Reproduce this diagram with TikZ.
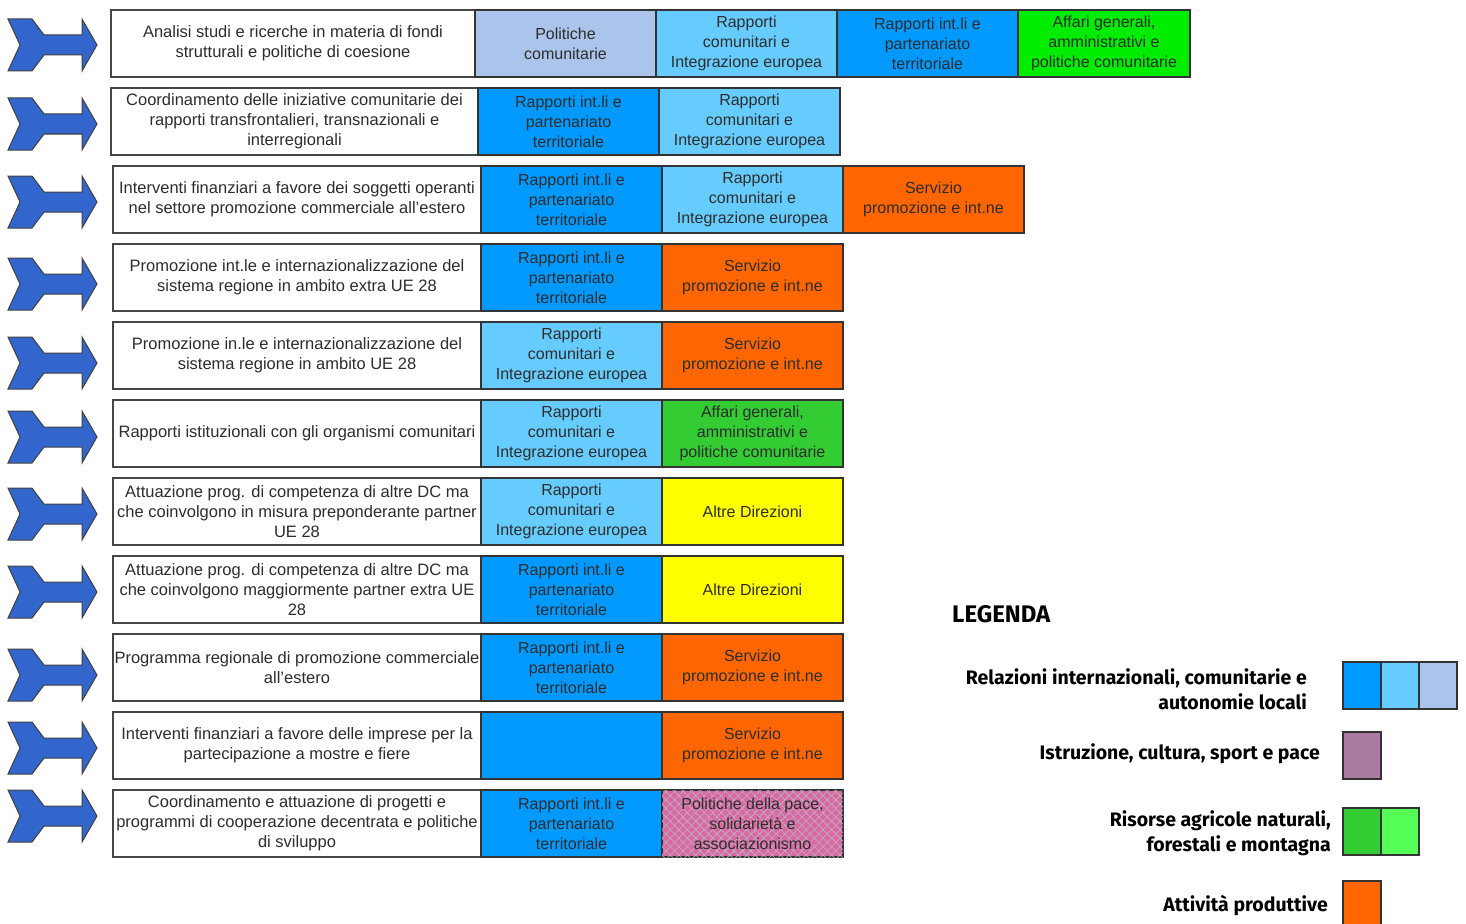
\documentclass[tikz,border=0pt]{standalone}
\usepackage{fontspec}
\setmainfont{Liberation Sans}
\newfontfamily\legendafont{Fira Sans}
\usetikzlibrary{positioning,patterns.meta}
\definecolor{freccia}{RGB}{51,102,204}
\definecolor{bordo}{RGB}{70,70,70}
\definecolor{testo}{RGB}{45,45,45}
\definecolor{polcom}{RGB}{170,196,236}
\definecolor{rapcom}{RGB}{102,204,255}
\definecolor{rapint}{RGB}{0,153,255}
\definecolor{affgen}{RGB}{0,236,0}
\definecolor{affgenb}{RGB}{51,204,51}
\definecolor{risorse}{RGB}{85,255,85}
\definecolor{servprom}{RGB}{255,102,0}
\definecolor{altredir}{RGB}{255,255,0}
\definecolor{pace}{RGB}{218,104,166}
\definecolor{istruz}{RGB}{170,122,160}
\begin{document}
\begin{tikzpicture}[x=1pt,y=-1pt,
  attivita/.style={draw=bordo, line width=1.4pt, fill=white, text=testo, font=\fontsize{16.5}{20}\selectfont, align=center, minimum height=67pt, anchor=north west, inner sep=0pt, outer sep=0pt},
  cella/.style={draw=black!80, line width=1.4pt, text=testo, font=\fontsize{16}{20}\selectfont, align=center, minimum height=67pt, minimum width=181pt, inner sep=0pt, outer sep=0pt},
  frecciablu/.style={fill=freccia, draw=black!75, line width=1pt},
  voce/.style={font=\legendafont\bfseries\fontsize{19.5}{25}\selectfont, align=right, anchor=east, inner sep=0pt},
  quadro/.style={draw=black!80, line width=1.2pt, minimum width=38pt, minimum height=47pt, inner sep=0pt, outer sep=0pt},
  retino/.style={postaction={pattern={Lines[angle=45,distance=6pt,line width=0.6pt]}, pattern color=gray!55},
                 postaction={pattern={Lines[angle=-45,distance=6pt,line width=0.6pt]}, pattern color=gray!55}}]
\useasboundingbox (0,0) rectangle (1466,923);

%Frecce
\foreach \cy in {45,124,202,284,363,437,514,592,675,748,816}
  \draw[frecciablu, shift={(0,\cy)}] (8,-26) -- (32,-26) -- (44,-10) -- (82,-10) -- (82,-26) -- (97,0) -- (82,26) -- (82,10) -- (44,10) -- (32,26) -- (8,26) -- (20,0) -- cycle;

%Riga 1
\node[attivita, minimum width=364pt] (att1) at (111,10) {Analisi studi e ricerche in materia di fondi\\strutturali e politiche di coesione};
\node[cella, fill=polcom, right=0pt of att1] (s1a) {Politiche\\comunitarie};
\node[cella, fill=rapcom, right=0pt of s1a] (s1b) {Rapporti\\comunitari e\\Integrazione europea};
\node[cella, fill=rapint, right=0pt of s1b] (s1c) {Rapporti int.li e\\partenariato\\territoriale};
\node[cella, fill=affgen, minimum width=172pt, right=0pt of s1c] (s1d) {Affari generali,\\amministrativi e\\politiche comunitarie};

%Riga 2
\node[attivita, minimum width=367pt] (att2) at (111,88) {Coordinamento delle iniziative comunitarie dei\\rapporti transfrontalieri, transnazionali e\\interregionali};
\node[cella, fill=rapint, right=0pt of att2] (s2a) {Rapporti int.li e\\partenariato\\territoriale};
\node[cella, fill=rapcom, right=0pt of s2a] (s2b) {Rapporti\\comunitari e\\Integrazione europea};

%Riga 3
\node[attivita, minimum width=368pt] (att3) at (113,166) {Interventi finanziari a favore dei soggetti operanti\\nel settore promozione commerciale all'estero};
\node[cella, fill=rapint, right=0pt of att3] (s3a) {Rapporti int.li e\\partenariato\\territoriale};
\node[cella, fill=rapcom, right=0pt of s3a] (s3b) {Rapporti\\comunitari e\\Integrazione europea};
\node[cella, fill=servprom, right=0pt of s3b] (s3c) {Servizio\\promozione e int.ne};

%Riga 4
\node[attivita, minimum width=368pt] (att4) at (113,244) {Promozione int.le e internazionalizzazione del\\sistema regione in ambito extra UE 28};
\node[cella, fill=rapint, right=0pt of att4] (s4a) {Rapporti int.li e\\partenariato\\territoriale};
\node[cella, fill=servprom, right=0pt of s4a] (s4b) {Servizio\\promozione e int.ne};

%Riga 5
\node[attivita, minimum width=368pt] (att5) at (113,322) {Promozione in.le e internazionalizzazione del\\sistema regione in ambito UE 28};
\node[cella, fill=rapcom, right=0pt of att5] (s5a) {Rapporti\\comunitari e\\Integrazione europea};
\node[cella, fill=servprom, right=0pt of s5a] (s5b) {Servizio\\promozione e int.ne};

%Riga 6
\node[attivita, minimum width=368pt] (att6) at (113,400) {Rapporti istituzionali con gli organismi comunitari};
\node[cella, fill=rapcom, right=0pt of att6] (s6a) {Rapporti\\comunitari e\\Integrazione europea};
\node[cella, fill=affgenb, right=0pt of s6a] (s6b) {Affari generali,\\amministrativi e\\politiche comunitarie};

%Riga 7
\node[attivita, minimum width=368pt] (att7) at (113,478) {Attuazione prog. di competenza di altre DC ma\\che coinvolgono in misura preponderante partner\\UE 28};
\node[cella, fill=rapcom, right=0pt of att7] (s7a) {Rapporti\\comunitari e\\Integrazione europea};
\node[cella, fill=altredir, right=0pt of s7a] (s7b) {Altre Direzioni};

%Riga 8
\node[attivita, minimum width=368pt] (att8) at (113,556) {Attuazione prog. di competenza di altre DC ma\\che coinvolgono maggiormente partner extra UE\\28};
\node[cella, fill=rapint, right=0pt of att8] (s8a) {Rapporti int.li e\\partenariato\\territoriale};
\node[cella, fill=altredir, right=0pt of s8a] (s8b) {Altre Direzioni};

%Riga 9
\node[attivita, minimum width=368pt] (att9) at (113,634) {Programma regionale di promozione commerciale\\all'estero};
\node[cella, fill=rapint, right=0pt of att9] (s9a) {Rapporti int.li e\\partenariato\\territoriale};
\node[cella, fill=servprom, right=0pt of s9a] (s9b) {Servizio\\promozione e int.ne};

%Riga 10
\node[attivita, minimum width=368pt] (att10) at (113,712) {Interventi finanziari a favore delle imprese per la\\partecipazione a mostre e fiere};
\node[cella, fill=rapint, right=0pt of att10] (s10a) {};
\node[cella, fill=servprom, right=0pt of s10a] (s10b) {Servizio\\promozione e int.ne};

%Riga 11
\node[attivita, minimum width=368pt] (att11) at (113,790) {Coordinamento e attuazione di progetti e\\programmi di cooperazione decentrata e politiche\\di sviluppo};
\node[cella, fill=rapint, right=0pt of att11] (s11a) {Rapporti int.li e\\partenariato\\territoriale};
\node[cella, fill=pace, retino, right=0pt of s11a] (s11b) {Politiche della pace,\\solidarietà e\\associazionismo};

%Legenda
\node[font=\legendafont\bfseries\fontsize{24}{28}\selectfont, anchor=west, inner sep=0pt] (legenda) at (952,614) {LEGENDA};

\node[quadro, fill=rapint, anchor=north west] (q1a) at (1343,662) {};
\node[quadro, fill=rapcom, right=0pt of q1a] (q1b) {};
\node[quadro, fill=polcom, right=0pt of q1b] (q1c) {};
\node[voce] (voce1) at (1307,689) {Relazioni internazionali, comunitarie e\\autonomie locali};

\node[quadro, fill=istruz, anchor=north west] (q2a) at (1343,732) {};
\node[voce] (voce2) at (1320,754) {Istruzione, cultura, sport e pace};

\node[quadro, fill=affgenb, anchor=north west] (q3a) at (1343,808) {};
\node[quadro, fill=risorse, right=0pt of q3a] (q3b) {};
\node[voce] (voce3) at (1331,833) {Risorse agricole naturali,\\forestali e montagna};

\node[quadro, fill=servprom, anchor=north west] (q4a) at (1343,881) {};
\node[voce] (voce4) at (1328,906) {Attività produttive};
\end{tikzpicture}
\end{document}
